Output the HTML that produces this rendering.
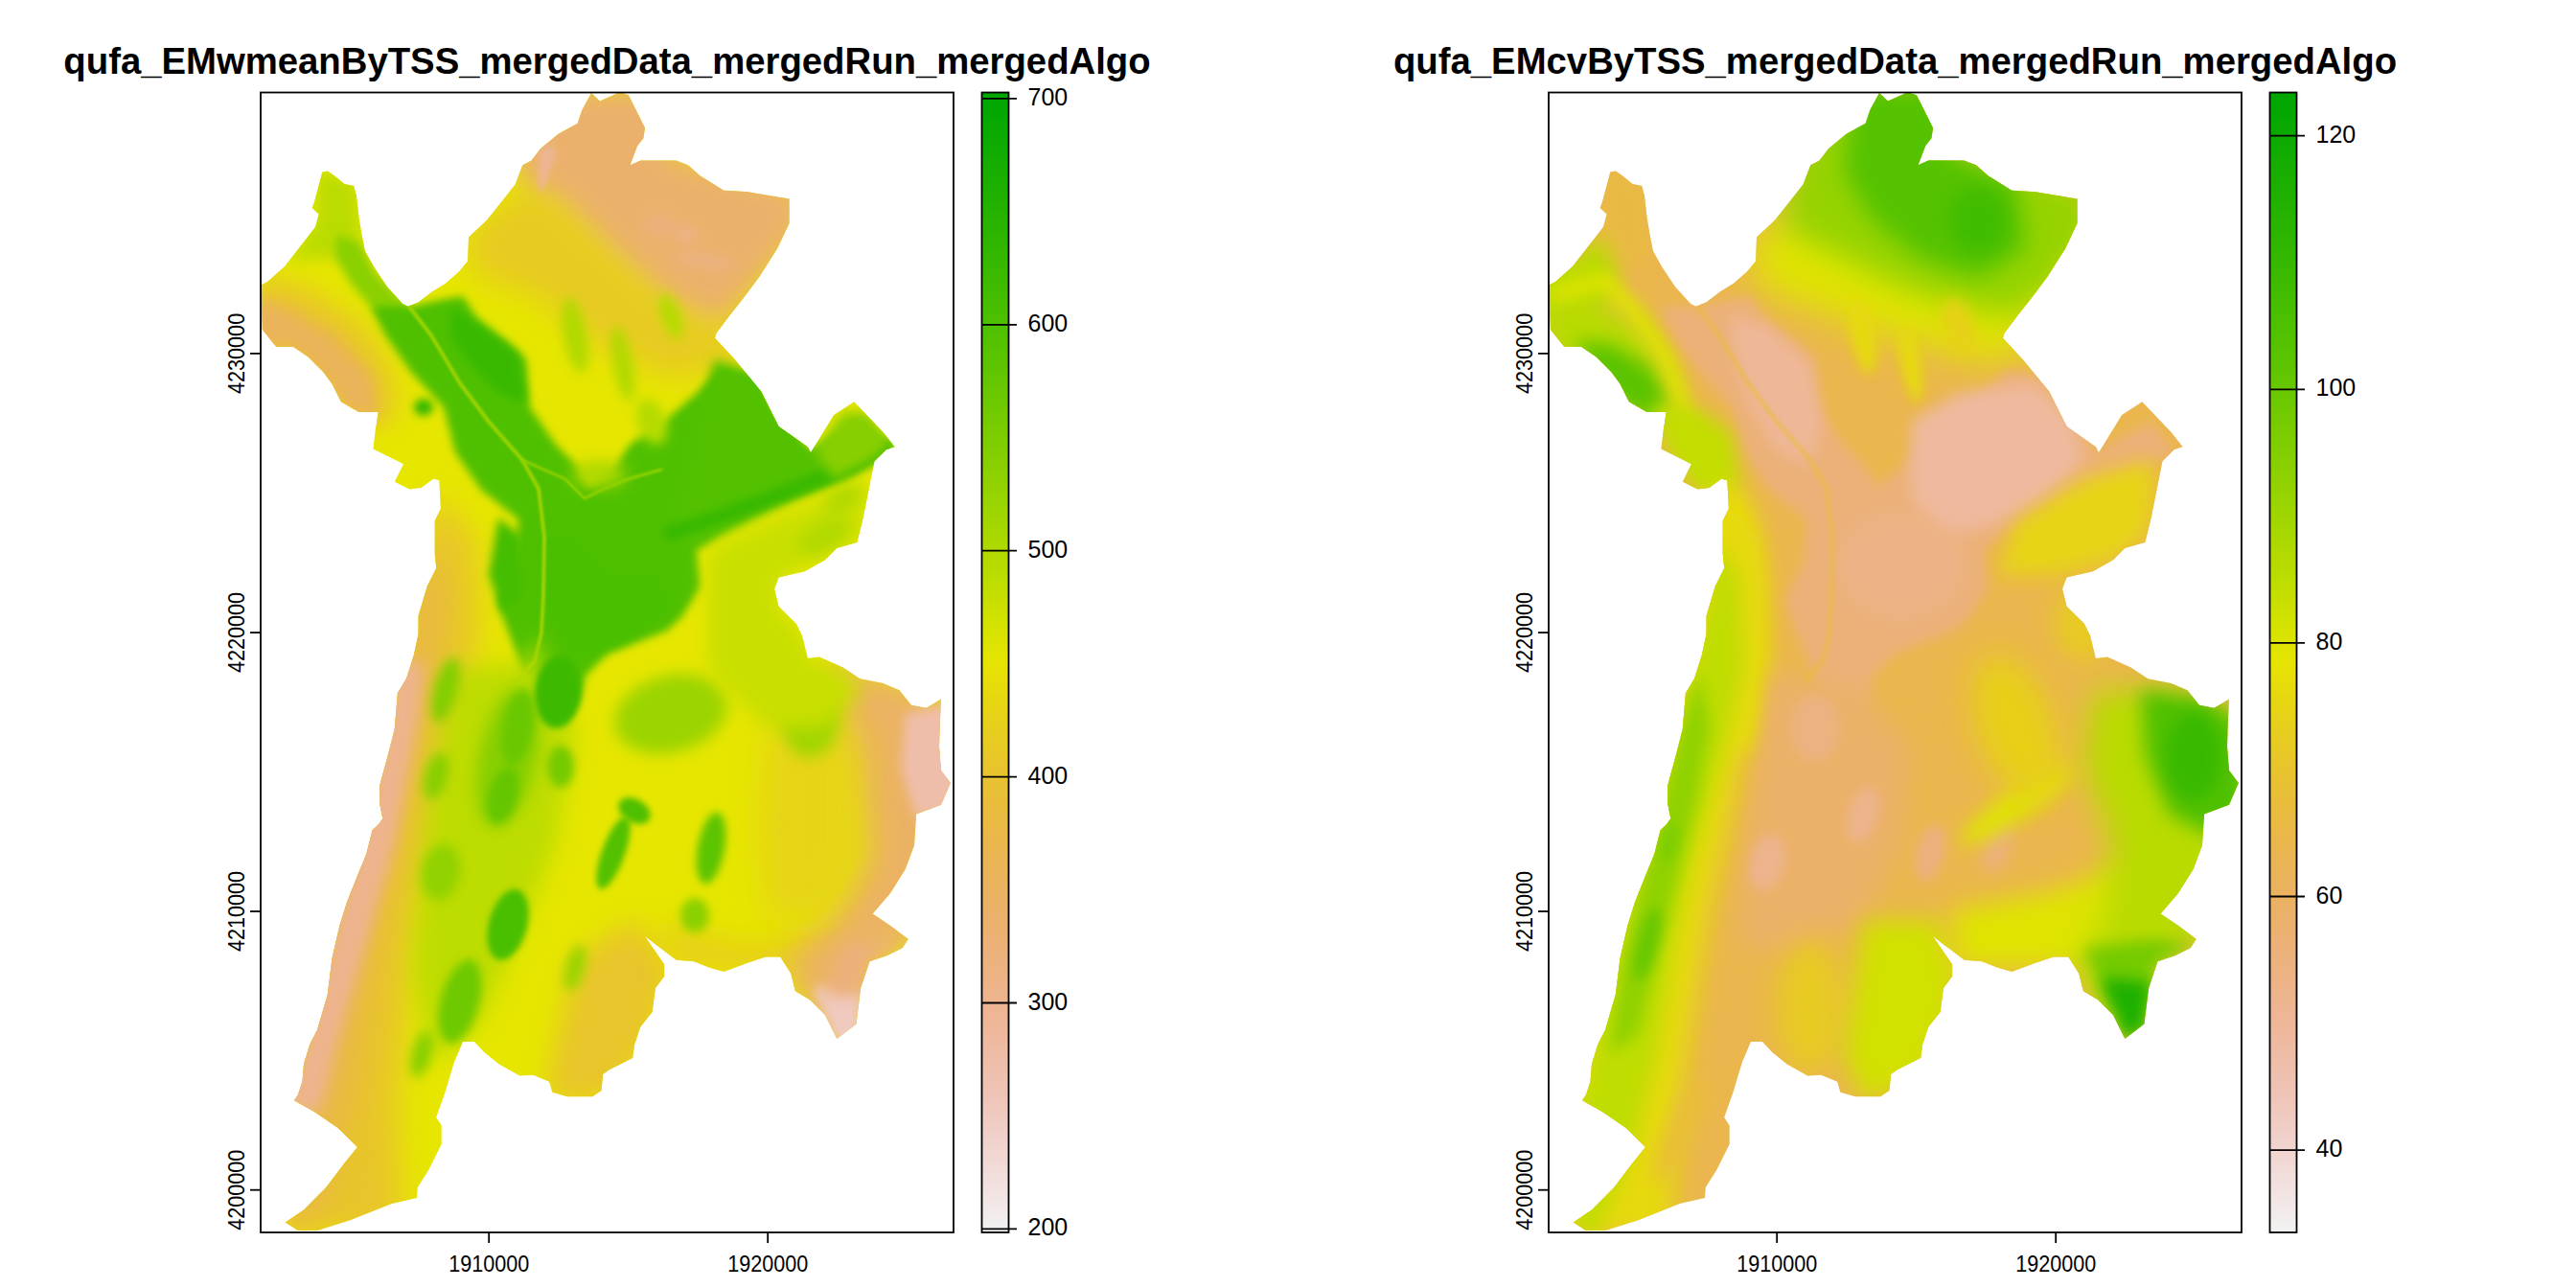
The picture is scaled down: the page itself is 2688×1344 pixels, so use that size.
<!DOCTYPE html>
<html><head><meta charset="utf-8"><style>html,body{margin:0;padding:0;background:#fff;}svg{display:block;}</style></head><body>
<svg width="2688" height="1344" viewBox="0 0 2688 1344">
<defs>
<clipPath id="clipmap"><polygon points="617.0,97.0 626.0,105.5 646.6,96.2 655.9,99.3 663.7,114.8 673.0,133.5 671.4,144.3 665.2,152.1 657.5,172.3 668.3,167.6 705.6,167.6 718.0,172.3 730.4,183.2 755.3,198.7 780.1,200.2 823.6,207.4 823.6,232.9 811.2,259.3 792.5,288.8 773.9,313.6 761.5,329.1 747.5,347.8 746.0,352.7 767.2,375.4 794.5,408.7 812.6,445.0 842.9,466.2 846.0,472.3 870.1,432.9 891.3,419.3 921.6,451.1 933.7,466.2 924.6,469.2 912.5,481.3 906.5,511.6 900.4,541.9 894.4,566.1 873.2,572.1 861.1,584.2 839.9,596.3 812.6,602.4 808.1,614.5 812.6,632.7 830.8,650.8 836.9,662.9 842.9,687.1 855.0,685.6 879.2,696.2 897.4,708.3 921.6,712.9 938.5,720.2 950.9,735.7 966.5,738.8 982.0,729.5 980.5,760.6 980.0,779.2 982.0,803.9 991.9,816.9 982.0,839.7 956.0,849.5 954.0,882.1 944.7,907.0 929.2,931.8 910.6,953.5 929.2,966.0 947.8,979.9 941.6,989.3 926.1,997.0 907.5,1003.2 898.1,1031.2 893.5,1068.4 873.3,1084.0 860.9,1059.1 845.3,1043.6 829.8,1034.3 825.2,1015.7 814.3,998.6 798.8,998.6 780.1,1004.8 755.3,1014.1 739.8,1009.4 724.2,1003.2 705.6,1001.7 673.0,977.0 693.2,1006.3 693.2,1018.8 683.9,1031.2 680.7,1056.0 668.3,1071.6 662.1,1090.2 660.2,1104.0 647.8,1110.2 635.4,1116.4 629.1,1121.1 627.6,1138.1 618.3,1144.3 591.9,1144.3 576.3,1139.7 573.2,1128.8 556.2,1121.8 542.2,1122.6 520.4,1110.2 505.0,1097.8 495.0,1087.0 483.0,1087.0 473.9,1108.6 464.5,1139.7 455.2,1166.1 460.7,1174.6 460.7,1194.0 456.8,1201.8 447.5,1220.4 435.8,1239.1 435.0,1250.0 408.6,1256.1 365.2,1273.2 331.0,1284.1 310.8,1284.1 297.6,1275.6 317.0,1262.4 340.3,1239.1 359.0,1214.2 372.9,1197.1 352.7,1177.0 327.9,1159.9 306.9,1148.2 310.8,1142.8 315.5,1128.8 317.0,1110.2 323.2,1090.0 331.0,1074.7 341.9,1037.4 346.5,1000.1 354.3,966.0 362.1,941.1 374.5,910.1 382.2,891.4 388.5,866.6 394.7,860.4 399.3,854.2 396.2,838.6 396.2,820.0 397.8,813.4 405.5,785.4 411.8,760.6 414.9,723.3 424.2,707.8 432.0,682.9 436.6,661.2 436.6,642.5 445.9,611.5 455.2,592.9 453.7,577.3 453.7,543.2 459.9,530.7 458.3,501.2 452.1,499.7 439.7,509.0 427.3,510.6 411.8,502.8 421.0,484.2 408.6,478.0 389.4,468.6 391.6,450.2 394.7,430.0 374.5,430.0 355.8,419.2 346.5,400.6 337.2,388.0 321.7,372.6 305.9,361.8 288.1,361.8 273.8,344.0 272.0,297.5 279.1,293.9 297.0,277.9 316.6,252.9 329.1,236.8 332.7,223.4 325.6,217.0 327.9,211.1 333.0,192.0 336.3,179.6 342.0,178.5 348.8,183.2 359.5,192.1 369.3,193.9 372.0,204.6 374.7,227.9 377.4,243.9 380.9,261.8 389.9,277.9 404.1,299.3 420.2,317.1 425.6,319.8 436.3,315.4 450.6,304.6 464.9,295.7 479.1,283.2 488.0,272.5 489.0,247.5 508.0,229.8 520.4,214.2 537.5,192.5 545.3,172.3 554.6,167.6 563.9,155.2 582.6,139.7 602.7,128.8 607.4,114.8"/></clipPath>
<filter id="b1" x="-50%" y="-50%" width="200%" height="200%"><feGaussianBlur stdDeviation="1"/></filter><filter id="b2" x="-50%" y="-50%" width="200%" height="200%"><feGaussianBlur stdDeviation="2"/></filter><filter id="b3" x="-50%" y="-50%" width="200%" height="200%"><feGaussianBlur stdDeviation="3"/></filter><filter id="b4" x="-50%" y="-50%" width="200%" height="200%"><feGaussianBlur stdDeviation="4"/></filter><filter id="b5" x="-50%" y="-50%" width="200%" height="200%"><feGaussianBlur stdDeviation="5"/></filter><filter id="b6" x="-50%" y="-50%" width="200%" height="200%"><feGaussianBlur stdDeviation="6"/></filter><filter id="b8" x="-50%" y="-50%" width="200%" height="200%"><feGaussianBlur stdDeviation="8"/></filter><filter id="b9" x="-50%" y="-50%" width="200%" height="200%"><feGaussianBlur stdDeviation="9"/></filter><filter id="b10" x="-50%" y="-50%" width="200%" height="200%"><feGaussianBlur stdDeviation="10"/></filter><filter id="b12" x="-50%" y="-50%" width="200%" height="200%"><feGaussianBlur stdDeviation="12"/></filter><filter id="b14" x="-50%" y="-50%" width="200%" height="200%"><feGaussianBlur stdDeviation="14"/></filter><filter id="b16" x="-50%" y="-50%" width="200%" height="200%"><feGaussianBlur stdDeviation="16"/></filter><filter id="b18" x="-50%" y="-50%" width="200%" height="200%"><feGaussianBlur stdDeviation="18"/></filter><filter id="b20" x="-50%" y="-50%" width="200%" height="200%"><feGaussianBlur stdDeviation="20"/></filter>
<linearGradient id="lg" x1="0" y1="0" x2="0" y2="1"><stop offset="0.0000" stop-color="#00A600"/><stop offset="0.0312" stop-color="#09A900"/><stop offset="0.0625" stop-color="#15AD00"/><stop offset="0.0938" stop-color="#20B100"/><stop offset="0.1250" stop-color="#2DB500"/><stop offset="0.1562" stop-color="#39B900"/><stop offset="0.1875" stop-color="#47BE00"/><stop offset="0.2188" stop-color="#54C200"/><stop offset="0.2500" stop-color="#63C600"/><stop offset="0.2812" stop-color="#72CA00"/><stop offset="0.3125" stop-color="#81CE00"/><stop offset="0.3438" stop-color="#91D200"/><stop offset="0.3750" stop-color="#A1D600"/><stop offset="0.4062" stop-color="#B2DA00"/><stop offset="0.4375" stop-color="#C3DE00"/><stop offset="0.4688" stop-color="#D5E200"/><stop offset="0.5000" stop-color="#E6E402"/><stop offset="0.5312" stop-color="#E6D710"/><stop offset="0.5625" stop-color="#E7CD1F"/><stop offset="0.5938" stop-color="#E8C42D"/><stop offset="0.6250" stop-color="#E9BC3C"/><stop offset="0.6562" stop-color="#EAB74B"/><stop offset="0.6875" stop-color="#EAB35A"/><stop offset="0.7188" stop-color="#EBB169"/><stop offset="0.7500" stop-color="#ECB178"/><stop offset="0.7812" stop-color="#EDB387"/><stop offset="0.8125" stop-color="#EEB696"/><stop offset="0.8438" stop-color="#EEBCA6"/><stop offset="0.8750" stop-color="#EFC3B5"/><stop offset="0.9062" stop-color="#F0CDC5"/><stop offset="0.9375" stop-color="#F1D8D5"/><stop offset="0.9688" stop-color="#F2E5E4"/><stop offset="1.0000" stop-color="#F2F2F2"/></linearGradient>
</defs>
<rect width="2688" height="1344" fill="#fff"/>
<g transform="translate(0,0)">
<text x="633.5" y="76.8" text-anchor="middle" font-family="Liberation Sans" font-weight="bold" font-size="38.3">qufa_EMwmeanByTSS_mergedData_mergedRun_mergedAlgo</text>
<g clip-path="url(#clipmap)">
<rect x="260" y="90" width="740" height="1200" fill="#E6E600"/>
<polygon points="480.0,250.0 545.0,195.0 590.0,220.0 640.0,270.0 700.0,320.0 750.0,345.0 790.0,300.0 810.0,330.0 770.0,380.0 700.0,395.0 620.0,360.0 560.0,310.0 500.0,290.0" fill="#E7CA22" filter="url(#b16)"/>
<polygon points="560.0,90.0 700.0,90.0 700.0,160.0 840.0,195.0 840.0,240.0 790.0,300.0 750.0,340.0 700.0,315.0 640.0,265.0 590.0,215.0 545.0,190.0 530.0,165.0" fill="#EBB16C" filter="url(#b14)"/>
<polygon points="563.0,158.0 575.0,150.0 580.0,160.0 568.0,195.0 562.0,200.0" fill="#EDB694" filter="url(#b3)"/>
<ellipse cx="735.0" cy="272.0" rx="30.0" ry="8.0" transform="rotate(10.0 735.0 272.0)" fill="#ECB281" filter="url(#b6)"/>
<ellipse cx="690.0" cy="235.0" rx="16.0" ry="12.0" transform="rotate(0.0 690.0 235.0)" fill="#ECB17C" filter="url(#b6)"/>
<ellipse cx="715.0" cy="245.0" rx="12.0" ry="10.0" transform="rotate(0.0 715.0 245.0)" fill="#EDB285" filter="url(#b6)"/>
<polygon points="265.0,285.0 320.0,300.0 380.0,340.0 410.0,390.0 412.0,440.0 370.0,445.0 300.0,390.0 265.0,370.0" fill="#E8C52B" filter="url(#b14)"/>
<polygon points="265.0,308.0 300.0,322.0 350.0,352.0 388.0,392.0 395.0,438.0 372.0,434.0 352.0,416.0 333.0,388.0 302.0,362.0 265.0,362.0" fill="#EAB35A" filter="url(#b8)"/>
<polygon points="330.0,175.0 372.0,190.0 378.0,250.0 360.0,270.0 320.0,270.0 300.0,275.0 330.0,225.0" fill="#BBDC00" filter="url(#b8)"/>
<polygon points="350.0,245.0 375.0,252.0 392.0,285.0 430.0,322.0 420.0,340.0 395.0,330.0 365.0,295.0 350.0,268.0" fill="#8BD000" filter="url(#b5)"/>
<polygon points="455.0,515.0 495.0,560.0 500.0,650.0 485.0,760.0 465.0,860.0 440.0,950.0 425.0,1050.0 415.0,1150.0 420.0,1290.0 290.0,1290.0 300.0,1100.0 340.0,950.0 385.0,810.0 420.0,650.0 440.0,560.0" fill="#E8C52B" filter="url(#b16)"/>
<polygon points="440.0,560.0 465.0,620.0 455.0,700.0 440.0,780.0 420.0,860.0 400.0,950.0 385.0,1050.0 370.0,1150.0 345.0,1250.0 300.0,1290.0 310.0,1150.0 340.0,1000.0 380.0,850.0 410.0,740.0 430.0,640.0" fill="#E9B943" filter="url(#b12)"/>
<polygon points="414.0,690.0 402.0,760.0 386.0,830.0 368.0,900.0 348.0,970.0 332.0,1040.0 315.0,1100.0 295.0,1160.0 335.0,1160.0 352.0,1090.0 372.0,1020.0 392.0,950.0 412.0,880.0 425.0,810.0 438.0,740.0 443.0,690.0" fill="#EDB48F" filter="url(#b8)"/>
<polygon points="600.0,1000.0 660.0,960.0 700.0,1000.0 690.0,1060.0 660.0,1120.0 630.0,1150.0 570.0,1150.0 575.0,1110.0" fill="#E8C52B" filter="url(#b14)"/>
<polygon points="690.0,960.0 780.0,985.0 860.0,970.0 880.0,1010.0 800.0,1020.0 700.0,1010.0" fill="#E7D019" filter="url(#b14)"/>
<polygon points="870.0,690.0 960.0,715.0 1000.0,740.0 1000.0,960.0 950.0,985.0 905.0,1010.0 900.0,1090.0 860.0,1090.0 820.0,1010.0 870.0,950.0 900.0,890.0 880.0,800.0 855.0,740.0" fill="#EBB263" filter="url(#b16)"/>
<polygon points="945.0,745.0 990.0,735.0 1000.0,850.0 955.0,852.0 940.0,800.0" fill="#EFBEAA" filter="url(#b6)"/>
<polygon points="848.0,1030.0 900.0,1030.0 895.0,1088.0 872.0,1088.0" fill="#F0CAC1" filter="url(#b6)"/>
<polygon points="880.0,985.0 945.0,980.0 905.0,1003.0 900.0,1040.0 860.0,1040.0" fill="#ECB17C" filter="url(#b8)"/>
<polygon points="800.0,760.0 870.0,720.0 900.0,780.0 900.0,900.0 860.0,960.0 800.0,960.0 790.0,860.0" fill="#E7D414" filter="url(#b18)"/>
<polygon points="428.0,320.0 459.0,313.0 483.0,309.0 498.0,332.0 533.0,359.0 549.0,375.0 553.0,425.0 580.0,464.0 603.0,487.0 615.0,507.0 642.0,487.0 657.0,464.0 696.0,437.0 727.0,410.0 750.0,386.0 789.0,394.0 805.0,433.0 828.0,449.0 844.0,472.0 870.0,456.0 900.0,440.0 925.0,470.0 880.0,500.0 805.0,526.0 758.0,550.0 727.0,573.0 731.0,612.0 712.0,643.0 696.0,658.0 665.0,670.0 634.0,682.0 611.0,705.0 603.0,736.0 587.0,759.0 564.0,759.0 553.0,716.0 533.0,666.0 518.0,627.0 537.0,588.0 541.0,542.0 502.0,511.0 475.0,472.0 463.0,425.0 428.0,387.0 401.0,348.0 388.0,320.0" fill="#4FC000" filter="url(#b4)"/>
<polygon points="470.0,320.0 500.0,340.0 540.0,370.0 548.0,420.0 520.0,410.0 490.0,380.0 470.0,350.0" fill="#39B900" filter="url(#b5)"/>
<polygon points="745.0,375.0 790.0,390.0 815.0,440.0 845.0,472.0 910.0,450.0 930.0,470.0 880.0,500.0 830.0,520.0 780.0,545.0 730.0,570.0 700.0,560.0 720.0,500.0" fill="#53C100" filter="url(#b6)"/>
<polyline points="700.0,556.0 760.0,536.0 820.0,514.0 880.0,490.0 925.0,466.0" fill="none" stroke="#39B900" stroke-width="16.0" stroke-linejoin="round" stroke-linecap="round" filter="url(#b4)"/>
<polygon points="560.0,560.0 600.0,560.0 640.0,600.0 690.0,600.0 700.0,640.0 650.0,670.0 600.0,690.0 580.0,650.0 560.0,620.0" fill="#4ABF00" filter="url(#b6)"/>
<ellipse cx="442.0" cy="425.0" rx="10.0" ry="9.0" transform="rotate(0.0 442.0 425.0)" fill="#35B800" filter="url(#b4)"/>
<polygon points="520.0,540.0 545.0,560.0 545.0,620.0 525.0,640.0 510.0,600.0" fill="#45BD00" filter="url(#b5)"/>
<ellipse cx="560.0" cy="690.0" rx="14.0" ry="25.0" transform="rotate(0.0 560.0 690.0)" fill="#74CA00" filter="url(#b8)"/>
<ellipse cx="625.0" cy="495.0" rx="28.0" ry="14.0" transform="rotate(0.0 625.0 495.0)" fill="#ACD800" filter="url(#b8)"/>
<polyline points="427.0,320.0 450.0,350.0 480.0,400.0 510.0,440.0 545.0,480.0 562.0,510.0 568.0,560.0 567.0,620.0 565.0,660.0 558.0,690.0 540.0,710.0" fill="none" stroke="#9BD400" stroke-width="4.0" stroke-linejoin="round" stroke-linecap="round" filter="url(#b1)"/>
<polyline points="545.0,480.0 590.0,500.0 610.0,520.0 630.0,510.0 655.0,500.0 690.0,490.0" fill="none" stroke="#91D200" stroke-width="3.0" stroke-linejoin="round" stroke-linecap="round" filter="url(#b1)"/>
<polygon points="850.0,470.0 880.0,430.0 905.0,430.0 930.0,465.0 910.0,480.0 870.0,500.0" fill="#87CF00" filter="url(#b6)"/>
<polygon points="470.0,700.0 560.0,690.0 600.0,760.0 580.0,880.0 540.0,980.0 500.0,1070.0 450.0,1110.0 430.0,1010.0 445.0,860.0" fill="#BDDC00" filter="url(#b12)"/>
<ellipse cx="530.0" cy="790.0" rx="30.0" ry="75.0" transform="rotate(12.0 530.0 790.0)" fill="#87CF00" filter="url(#b8)"/>
<ellipse cx="582.0" cy="722.0" rx="24.0" ry="38.0" transform="rotate(5.0 582.0 722.0)" fill="#3DBA00" filter="url(#b3)"/>
<ellipse cx="540.0" cy="760.0" rx="16.0" ry="40.0" transform="rotate(10.0 540.0 760.0)" fill="#6AC800" filter="url(#b4)"/>
<ellipse cx="525.0" cy="830.0" rx="15.0" ry="30.0" transform="rotate(15.0 525.0 830.0)" fill="#65C600" filter="url(#b4)"/>
<ellipse cx="585.0" cy="800.0" rx="14.0" ry="22.0" transform="rotate(0.0 585.0 800.0)" fill="#74CA00" filter="url(#b5)"/>
<ellipse cx="662.0" cy="846.0" rx="18.0" ry="12.0" transform="rotate(30.0 662.0 846.0)" fill="#4FC000" filter="url(#b3)"/>
<ellipse cx="640.0" cy="890.0" rx="12.0" ry="40.0" transform="rotate(20.0 640.0 890.0)" fill="#53C100" filter="url(#b3)"/>
<ellipse cx="742.0" cy="885.0" rx="14.0" ry="38.0" transform="rotate(10.0 742.0 885.0)" fill="#5CC400" filter="url(#b4)"/>
<ellipse cx="530.0" cy="965.0" rx="20.0" ry="38.0" transform="rotate(15.0 530.0 965.0)" fill="#4ABF00" filter="url(#b3)"/>
<ellipse cx="480.0" cy="1045.0" rx="20.0" ry="45.0" transform="rotate(15.0 480.0 1045.0)" fill="#6EC900" filter="url(#b5)"/>
<ellipse cx="460.0" cy="910.0" rx="20.0" ry="30.0" transform="rotate(10.0 460.0 910.0)" fill="#91D200" filter="url(#b6)"/>
<ellipse cx="700.0" cy="745.0" rx="60.0" ry="40.0" transform="rotate(-15.0 700.0 745.0)" fill="#9BD400" filter="url(#b8)"/>
<ellipse cx="845.0" cy="750.0" rx="30.0" ry="40.0" transform="rotate(0.0 845.0 750.0)" fill="#9FD500" filter="url(#b8)"/>
<ellipse cx="725.0" cy="955.0" rx="15.0" ry="18.0" transform="rotate(0.0 725.0 955.0)" fill="#8BD000" filter="url(#b5)"/>
<ellipse cx="600.0" cy="1010.0" rx="10.0" ry="25.0" transform="rotate(15.0 600.0 1010.0)" fill="#9BD400" filter="url(#b6)"/>
<ellipse cx="440.0" cy="1100.0" rx="10.0" ry="25.0" transform="rotate(15.0 440.0 1100.0)" fill="#87CF00" filter="url(#b6)"/>
<ellipse cx="465.0" cy="720.0" rx="12.0" ry="35.0" transform="rotate(15.0 465.0 720.0)" fill="#81CE00" filter="url(#b6)"/>
<ellipse cx="455.0" cy="810.0" rx="12.0" ry="25.0" transform="rotate(15.0 455.0 810.0)" fill="#87CF00" filter="url(#b6)"/>
<polygon points="740.0,575.0 850.0,525.0 905.0,505.0 900.0,560.0 870.0,575.0 810.0,605.0 812.0,635.0 840.0,665.0 845.0,690.0 880.0,700.0 900.0,720.0 860.0,760.0 800.0,760.0 740.0,700.0" fill="#C8DF00" filter="url(#b10)"/>
<ellipse cx="600.0" cy="350.0" rx="12.0" ry="40.0" transform="rotate(-10.0 600.0 350.0)" fill="#B0D900" filter="url(#b6)"/>
<ellipse cx="650.0" cy="380.0" rx="10.0" ry="40.0" transform="rotate(-10.0 650.0 380.0)" fill="#B0D900" filter="url(#b6)"/>
<ellipse cx="700.0" cy="330.0" rx="10.0" ry="25.0" transform="rotate(-20.0 700.0 330.0)" fill="#B6DB00" filter="url(#b6)"/>
<ellipse cx="680.0" cy="440.0" rx="15.0" ry="25.0" transform="rotate(-20.0 680.0 440.0)" fill="#B6DB00" filter="url(#b6)"/>
<ellipse cx="860.0" cy="560.0" rx="30.0" ry="14.0" transform="rotate(-30.0 860.0 560.0)" fill="#B0D900" filter="url(#b8)"/>
<ellipse cx="880.0" cy="520.0" rx="22.0" ry="10.0" transform="rotate(-30.0 880.0 520.0)" fill="#ACD800" filter="url(#b8)"/>
</g>
<rect x="272" y="96.5" width="723" height="1189.5" fill="none" stroke="#000" stroke-width="1.8"/>
<line x1="261" y1="368.9" x2="272" y2="368.9" stroke="#000" stroke-width="1.8"/>
<text transform="translate(255.4,368.9) rotate(-90) scale(1,1.07)" text-anchor="middle" font-family="Liberation Sans" font-size="21.6">4230000</text>
<line x1="261" y1="660.1" x2="272" y2="660.1" stroke="#000" stroke-width="1.8"/>
<text transform="translate(255.4,660.1) rotate(-90) scale(1,1.07)" text-anchor="middle" font-family="Liberation Sans" font-size="21.6">4220000</text>
<line x1="261" y1="951.0" x2="272" y2="951.0" stroke="#000" stroke-width="1.8"/>
<text transform="translate(255.4,951.0) rotate(-90) scale(1,1.07)" text-anchor="middle" font-family="Liberation Sans" font-size="21.6">4210000</text>
<line x1="261" y1="1241.7" x2="272" y2="1241.7" stroke="#000" stroke-width="1.8"/>
<text transform="translate(255.4,1241.7) rotate(-90) scale(1,1.07)" text-anchor="middle" font-family="Liberation Sans" font-size="21.6">4200000</text>
<line x1="510.2" y1="1286" x2="510.2" y2="1297" stroke="#000" stroke-width="1.8"/>
<text transform="translate(510.2,1326.9) scale(1,1.07)" text-anchor="middle" font-family="Liberation Sans" font-size="21.6">1910000</text>
<line x1="801.2" y1="1286" x2="801.2" y2="1297" stroke="#000" stroke-width="1.8"/>
<text transform="translate(801.2,1326.9) scale(1,1.07)" text-anchor="middle" font-family="Liberation Sans" font-size="21.6">1920000</text>
<rect x="1024.5" y="96.5" width="28" height="1189.5" fill="url(#lg)" stroke="#000" stroke-width="1.8"/>
<line x1="1024.5" y1="102.9" x2="1061" y2="102.9" stroke="#000" stroke-width="1.8"/>
<text transform="translate(1072.5,109.9) scale(1,1.045)" font-family="Liberation Sans" font-size="25">700</text>
<line x1="1024.5" y1="338.8" x2="1061" y2="338.8" stroke="#000" stroke-width="1.8"/>
<text transform="translate(1072.5,345.8) scale(1,1.045)" font-family="Liberation Sans" font-size="25">600</text>
<line x1="1024.5" y1="574.7" x2="1061" y2="574.7" stroke="#000" stroke-width="1.8"/>
<text transform="translate(1072.5,581.7) scale(1,1.045)" font-family="Liberation Sans" font-size="25">500</text>
<line x1="1024.5" y1="810.6" x2="1061" y2="810.6" stroke="#000" stroke-width="1.8"/>
<text transform="translate(1072.5,817.6) scale(1,1.045)" font-family="Liberation Sans" font-size="25">400</text>
<line x1="1024.5" y1="1046.5" x2="1061" y2="1046.5" stroke="#000" stroke-width="1.8"/>
<text transform="translate(1072.5,1053.5) scale(1,1.045)" font-family="Liberation Sans" font-size="25">300</text>
<line x1="1024.5" y1="1282.4" x2="1061" y2="1282.4" stroke="#000" stroke-width="1.8"/>
<text transform="translate(1072.5,1289.4) scale(1,1.045)" font-family="Liberation Sans" font-size="25">200</text>
</g>
<g transform="translate(1344,0)">
<text x="633.5" y="76.8" text-anchor="middle" font-family="Liberation Sans" font-weight="bold" font-size="38.3">qufa_EMcvByTSS_mergedData_mergedRun_mergedAlgo</text>
<g clip-path="url(#clipmap)">
<rect x="260" y="90" width="740" height="1200" fill="#EAB64D"/>
<polygon points="480.0,250.0 560.0,200.0 700.0,190.0 830.0,210.0 830.0,300.0 790.0,340.0 750.0,380.0 700.0,370.0 620.0,350.0 540.0,320.0 490.0,300.0" fill="#DFE400" filter="url(#b20)"/>
<polygon points="540.0,90.0 700.0,90.0 700.0,160.0 840.0,195.0 840.0,250.0 800.0,300.0 760.0,330.0 700.0,320.0 640.0,300.0 580.0,270.0 520.0,240.0 520.0,200.0" fill="#95D300" filter="url(#b16)"/>
<polygon points="590.0,90.0 690.0,90.0 690.0,160.0 760.0,190.0 770.0,260.0 720.0,290.0 660.0,270.0 610.0,230.0 580.0,180.0" fill="#54C200" filter="url(#b12)"/>
<ellipse cx="720.0" cy="230.0" rx="30.0" ry="35.0" transform="rotate(0.0 720.0 230.0)" fill="#40BC00" filter="url(#b10)"/>
<polygon points="330.0,175.0 372.0,190.0 378.0,250.0 370.0,280.0 330.0,275.0 300.0,280.0 330.0,225.0" fill="#E9BA42" filter="url(#b8)"/>
<polygon points="262.0,280.0 300.0,268.0 325.0,245.0 345.0,285.0 335.0,318.0 295.0,338.0 262.0,335.0" fill="#B9DB00" filter="url(#b10)"/>
<polygon points="265.0,310.0 320.0,310.0 370.0,340.0 400.0,390.0 405.0,445.0 370.0,450.0 300.0,390.0 265.0,370.0" fill="#B9DB00" filter="url(#b14)"/>
<polygon points="300.0,355.0 340.0,360.0 380.0,385.0 400.0,425.0 375.0,440.0 340.0,415.0 310.0,380.0" fill="#5AC300" filter="url(#b10)"/>
<polyline points="281.0,306.0 330.0,292.0 360.0,323.0 392.0,368.0 410.0,414.0 418.0,460.0" fill="none" stroke="#DFE400" stroke-width="16.0" stroke-linejoin="round" stroke-linecap="round" filter="url(#b8)"/>
<polygon points="428.0,320.0 459.0,313.0 483.0,309.0 498.0,332.0 533.0,359.0 549.0,375.0 553.0,425.0 580.0,464.0 603.0,487.0 615.0,507.0 642.0,487.0 657.0,464.0 696.0,437.0 727.0,410.0 750.0,386.0 789.0,394.0 805.0,433.0 828.0,449.0 844.0,472.0 870.0,456.0 900.0,440.0 925.0,470.0 880.0,500.0 805.0,526.0 758.0,550.0 727.0,573.0 731.0,612.0 712.0,643.0 696.0,658.0 665.0,670.0 634.0,682.0 611.0,705.0 603.0,736.0 587.0,759.0 564.0,759.0 553.0,716.0 533.0,666.0 518.0,627.0 537.0,588.0 541.0,542.0 502.0,511.0 475.0,472.0 463.0,425.0 428.0,387.0 401.0,348.0 388.0,320.0" fill="#ECB178" filter="url(#b6)"/>
<polygon points="461.0,330.0 500.0,340.0 545.0,380.0 558.0,440.0 545.0,487.0 510.0,470.0 480.0,420.0 465.0,370.0" fill="#EEB798" filter="url(#b8)"/>
<polygon points="650.0,440.0 700.0,410.0 780.0,400.0 818.0,440.0 830.0,480.0 790.0,520.0 730.0,550.0 680.0,560.0 650.0,520.0" fill="#EEB99E" filter="url(#b8)"/>
<ellipse cx="640.0" cy="590.0" rx="65.0" ry="55.0" transform="rotate(0.0 640.0 590.0)" fill="#EDB387" filter="url(#b12)"/>
<polygon points="380.0,420.0 430.0,428.0 462.0,450.0 472.0,500.0 462.0,520.0 430.0,518.0 400.0,480.0" fill="#C3DE00" filter="url(#b9)"/>
<polygon points="455.0,500.0 480.0,520.0 495.0,600.0 500.0,700.0 490.0,780.0 440.0,780.0 440.0,650.0 445.0,540.0" fill="#E6E204" filter="url(#b12)"/>
<polygon points="500.0,700.0 600.0,720.0 650.0,780.0 640.0,880.0 600.0,960.0 520.0,1000.0 470.0,980.0 480.0,860.0" fill="#EBB167" filter="url(#b12)"/>
<ellipse cx="550.0" cy="760.0" rx="25.0" ry="35.0" transform="rotate(0.0 550.0 760.0)" fill="#ECB281" filter="url(#b6)"/>
<ellipse cx="500.0" cy="900.0" rx="18.0" ry="30.0" transform="rotate(15.0 500.0 900.0)" fill="#EDB48D" filter="url(#b6)"/>
<ellipse cx="600.0" cy="850.0" rx="15.0" ry="30.0" transform="rotate(15.0 600.0 850.0)" fill="#EDB48D" filter="url(#b6)"/>
<ellipse cx="670.0" cy="890.0" rx="15.0" ry="30.0" transform="rotate(15.0 670.0 890.0)" fill="#ECB17E" filter="url(#b6)"/>
<ellipse cx="740.0" cy="880.0" rx="15.0" ry="30.0" transform="rotate(15.0 740.0 880.0)" fill="#ECB17E" filter="url(#b8)"/>
<polyline points="427.0,320.0 450.0,350.0 480.0,400.0 510.0,440.0 545.0,480.0 562.0,510.0 568.0,560.0 567.0,620.0 565.0,660.0 558.0,690.0 540.0,710.0" fill="none" stroke="#E9BB3E" stroke-width="3.0" stroke-linejoin="round" stroke-linecap="round" filter="url(#b2)"/>
<ellipse cx="600.0" cy="350.0" rx="12.0" ry="40.0" transform="rotate(-10.0 600.0 350.0)" fill="#E6D90E" filter="url(#b6)"/>
<ellipse cx="650.0" cy="380.0" rx="10.0" ry="40.0" transform="rotate(-10.0 650.0 380.0)" fill="#E6D90E" filter="url(#b6)"/>
<ellipse cx="700.0" cy="340.0" rx="15.0" ry="30.0" transform="rotate(-20.0 700.0 340.0)" fill="#E7D019" filter="url(#b8)"/>
<polygon points="760.0,545.0 830.0,500.0 900.0,480.0 905.0,520.0 895.0,560.0 860.0,585.0 800.0,600.0 740.0,600.0" fill="#E7D414" filter="url(#b10)"/>
<polygon points="455.0,520.0 490.0,560.0 495.0,650.0 480.0,760.0 460.0,860.0 440.0,950.0 425.0,1050.0 410.0,1150.0 400.0,1290.0 290.0,1290.0 300.0,1100.0 340.0,950.0 385.0,810.0 420.0,650.0 440.0,560.0" fill="#E6D90E" filter="url(#b12)"/>
<polygon points="440.0,560.0 470.0,600.0 475.0,700.0 450.0,800.0 420.0,900.0 400.0,1000.0 385.0,1100.0 360.0,1200.0 320.0,1290.0 300.0,1290.0 305.0,1150.0 340.0,1000.0 380.0,860.0 420.0,700.0 440.0,620.0" fill="#BFDD00" filter="url(#b10)"/>
<polygon points="430.0,700.0 440.0,760.0 425.0,840.0 405.0,920.0 385.0,1000.0 365.0,1080.0 335.0,1100.0 350.0,1000.0 380.0,880.0 410.0,760.0" fill="#8FD100" filter="url(#b8)"/>
<ellipse cx="375.0" cy="985.0" rx="10.0" ry="40.0" transform="rotate(15.0 375.0 985.0)" fill="#68C700" filter="url(#b6)"/>
<ellipse cx="398.0" cy="880.0" rx="8.0" ry="22.0" transform="rotate(15.0 398.0 880.0)" fill="#7DCD00" filter="url(#b6)"/>
<ellipse cx="410.0" cy="1180.0" rx="14.0" ry="60.0" transform="rotate(25.0 410.0 1180.0)" fill="#E9BE38" filter="url(#b10)"/>
<ellipse cx="545.0" cy="1050.0" rx="35.0" ry="70.0" transform="rotate(0.0 545.0 1050.0)" fill="#E7CA22" filter="url(#b14)"/>
<polygon points="600.0,960.0 680.0,960.0 700.0,1020.0 690.0,1080.0 660.0,1130.0 600.0,1150.0 580.0,1100.0" fill="#D1E100" filter="url(#b12)"/>
<polygon points="690.0,950.0 800.0,930.0 880.0,900.0 900.0,960.0 860.0,1010.0 780.0,1010.0 700.0,1010.0" fill="#DFE400" filter="url(#b14)"/>
<polygon points="840.0,720.0 930.0,720.0 1000.0,750.0 1000.0,960.0 950.0,985.0 905.0,1010.0 900.0,1090.0 860.0,1090.0 820.0,1010.0 850.0,960.0 860.0,880.0 830.0,800.0" fill="#B9DB00" filter="url(#b16)"/>
<polygon points="890.0,720.0 960.0,730.0 1000.0,760.0 1000.0,860.0 960.0,870.0 920.0,850.0 895.0,790.0" fill="#4FC000" filter="url(#b10)"/>
<ellipse cx="945.0" cy="790.0" rx="28.0" ry="45.0" transform="rotate(0.0 945.0 790.0)" fill="#38B900" filter="url(#b8)"/>
<polygon points="830.0,990.0 900.0,980.0 945.0,985.0 905.0,1005.0 900.0,1050.0 860.0,1050.0" fill="#74CA00" filter="url(#b8)"/>
<polygon points="848.0,1020.0 900.0,1025.0 895.0,1075.0 873.0,1086.0" fill="#1DB000" filter="url(#b8)"/>
<ellipse cx="760.0" cy="840.0" rx="15.0" ry="70.0" transform="rotate(55.0 760.0 840.0)" fill="#DFE400" filter="url(#b10)"/>
<ellipse cx="760.0" cy="760.0" rx="40.0" ry="80.0" transform="rotate(-20.0 760.0 760.0)" fill="#E7D019" filter="url(#b16)"/>
<ellipse cx="830.0" cy="650.0" rx="30.0" ry="40.0" transform="rotate(0.0 830.0 650.0)" fill="#E7CA22" filter="url(#b12)"/>
</g>
<rect x="272" y="96.5" width="723" height="1189.5" fill="none" stroke="#000" stroke-width="1.8"/>
<line x1="261" y1="368.9" x2="272" y2="368.9" stroke="#000" stroke-width="1.8"/>
<text transform="translate(255.4,368.9) rotate(-90) scale(1,1.07)" text-anchor="middle" font-family="Liberation Sans" font-size="21.6">4230000</text>
<line x1="261" y1="660.1" x2="272" y2="660.1" stroke="#000" stroke-width="1.8"/>
<text transform="translate(255.4,660.1) rotate(-90) scale(1,1.07)" text-anchor="middle" font-family="Liberation Sans" font-size="21.6">4220000</text>
<line x1="261" y1="951.0" x2="272" y2="951.0" stroke="#000" stroke-width="1.8"/>
<text transform="translate(255.4,951.0) rotate(-90) scale(1,1.07)" text-anchor="middle" font-family="Liberation Sans" font-size="21.6">4210000</text>
<line x1="261" y1="1241.7" x2="272" y2="1241.7" stroke="#000" stroke-width="1.8"/>
<text transform="translate(255.4,1241.7) rotate(-90) scale(1,1.07)" text-anchor="middle" font-family="Liberation Sans" font-size="21.6">4200000</text>
<line x1="510.2" y1="1286" x2="510.2" y2="1297" stroke="#000" stroke-width="1.8"/>
<text transform="translate(510.2,1326.9) scale(1,1.07)" text-anchor="middle" font-family="Liberation Sans" font-size="21.6">1910000</text>
<line x1="801.2" y1="1286" x2="801.2" y2="1297" stroke="#000" stroke-width="1.8"/>
<text transform="translate(801.2,1326.9) scale(1,1.07)" text-anchor="middle" font-family="Liberation Sans" font-size="21.6">1920000</text>
<rect x="1024.5" y="96.5" width="28" height="1189.5" fill="url(#lg)" stroke="#000" stroke-width="1.8"/>
<line x1="1024.5" y1="141.7" x2="1061" y2="141.7" stroke="#000" stroke-width="1.8"/>
<text transform="translate(1072.5,148.7) scale(1,1.045)" font-family="Liberation Sans" font-size="25">120</text>
<line x1="1024.5" y1="406.3" x2="1061" y2="406.3" stroke="#000" stroke-width="1.8"/>
<text transform="translate(1072.5,413.3) scale(1,1.045)" font-family="Liberation Sans" font-size="25">100</text>
<line x1="1024.5" y1="670.9" x2="1061" y2="670.9" stroke="#000" stroke-width="1.8"/>
<text transform="translate(1072.5,677.9) scale(1,1.045)" font-family="Liberation Sans" font-size="25">80</text>
<line x1="1024.5" y1="935.5" x2="1061" y2="935.5" stroke="#000" stroke-width="1.8"/>
<text transform="translate(1072.5,942.5) scale(1,1.045)" font-family="Liberation Sans" font-size="25">60</text>
<line x1="1024.5" y1="1200.1" x2="1061" y2="1200.1" stroke="#000" stroke-width="1.8"/>
<text transform="translate(1072.5,1207.1) scale(1,1.045)" font-family="Liberation Sans" font-size="25">40</text>
</g>
</svg></body></html>
